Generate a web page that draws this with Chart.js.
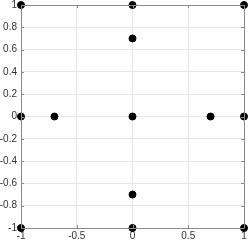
<!DOCTYPE html>
<html>
<head>
<meta charset="utf-8">
<script src="https://cdn.jsdelivr.net/npm/chart.js@4"></script>
<style>
  html, body { margin: 0; padding: 0; background: #fff; }
  #wrap { width: 249px; height: 241px; }
</style>
</head>
<body>
<div id="wrap"><canvas id="chart" width="249" height="241"></canvas></div>
<script>
// ================= DATA =================
const xValues = [-1, 0, 1, 0, -1, -0.7, 0, 0.7, 1, 0, -1, 0, 1];
const yValues = [1, 1, 1, 0.7, 0, 0, 0, 0, 0, -0.7, -1, -1, -1];
const xTicks = [-1, -0.5, 0, 0.5, 1];
const yTicks = [-1, -0.8, -0.6, -0.4, -0.2, 0, 0.2, 0.4, 0.6, 0.8, 1];

const points = xValues.map((x, i) => ({ x: x, y: yValues[i] }));

// box around plot with inward ticks
const boxPlugin = {
  id: "box",
  afterDraw(chart) {
    const c = chart.ctx;
    const a = chart.chartArea;
    const xs = chart.scales.x;
    const ys = chart.scales.y;
    c.save();
    c.strokeStyle = "#8a8a8a";
    c.lineWidth = 1;
    c.beginPath();
    c.rect(Math.round(a.left) + 0.5, Math.round(a.top) + 0.5,
           Math.round(a.right - a.left), Math.round(a.bottom - a.top));
    c.stroke();
    c.beginPath();
    xTicks.forEach(v => {
      const px = Math.round(xs.getPixelForValue(v)) + 0.5;
      c.moveTo(px, a.bottom); c.lineTo(px, a.bottom - 3);
      c.moveTo(px, a.top); c.lineTo(px, a.top + 3);
    });
    yTicks.forEach(v => {
      const py = Math.round(ys.getPixelForValue(v)) + 0.5;
      c.moveTo(a.left, py); c.lineTo(a.left + 3, py);
      c.moveTo(a.right, py); c.lineTo(a.right - 3, py);
    });
    c.stroke();
    c.restore();
  }
};

const fmt = v => String(Math.round(v * 10) / 10);

new Chart(document.getElementById("chart"), {
  type: "scatter",
  data: {
    datasets: [{
      data: points,
      backgroundColor: "#000",
      borderColor: "#000",
      pointRadius: 3.5,
      clip: false
    }]
  },
  options: {
    responsive: false,
    animation: false,
    layout: { padding: { top: 0, right: 0, left: 0, bottom: 0 } },
    plugins: { legend: { display: false }, tooltip: { enabled: false } },
    scales: {
      x: {
        min: -1, max: 1,
        afterBuildTicks: s => { s.ticks = xTicks.map(v => ({ value: v })); },
        afterFit: s => { s.height = 13; s.paddingRight = 4; s.paddingLeft = 0; },
        grid: { color: "#e6e6e6", drawTicks: false },
        border: { display: false },
        ticks: { color: "#333", font: { family: "Liberation Sans", size: 10 }, padding: 2, maxRotation: 0, callback: fmt }
      },
      y: {
        min: -1, max: 1,
        afterBuildTicks: s => { s.ticks = yTicks.map(v => ({ value: v })); },
        afterFit: s => { s.width = 21; s.paddingTop = 4; s.paddingBottom = 0; },
        grid: { color: "#e6e6e6", drawTicks: false },
        border: { display: false },
        ticks: { color: "#333", font: { family: "Liberation Sans", size: 10 }, padding: 4, callback: fmt }
      }
    }
  },
  plugins: [boxPlugin]
});
</script>
</body>
</html>
